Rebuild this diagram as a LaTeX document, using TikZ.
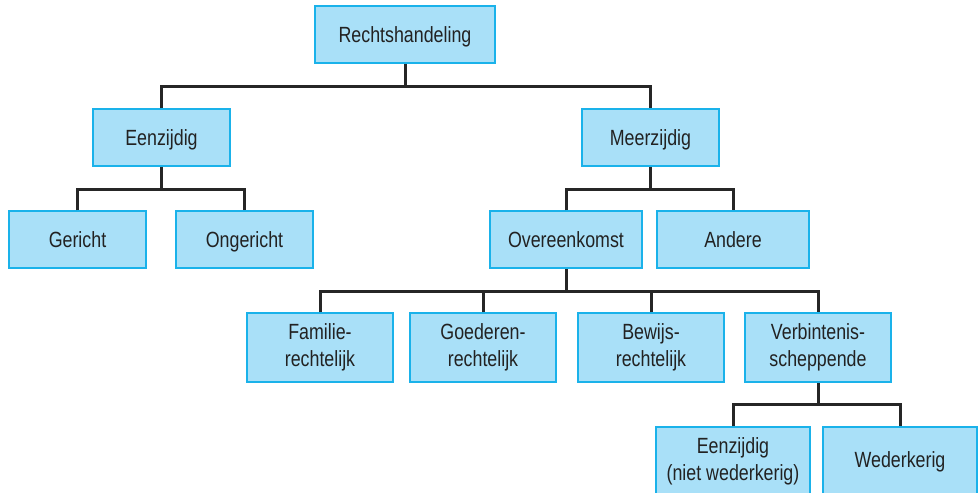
\documentclass[tikz,border=0pt]{standalone}
\usepackage{fontspec}
\setmainfont{Liberation Sans}[FakeStretch=0.81]
\definecolor{boxfill}{HTML}{A9E0F8}
\definecolor{boxline}{HTML}{1AB2EA}
\definecolor{txt}{HTML}{222222}
\definecolor{conn}{HTML}{262626}
\tikzset{
  box/.style={draw=boxline, fill=boxfill, line width=1.5pt, inner sep=0pt,
    text=txt, font=\fontsize{22}{27}\selectfont, align=center},
  small/.style={box, minimum height=57pt, text height=15pt, text depth=0pt},
  tall/.style={box, minimum height=69pt},
  link/.style={draw=conn, line width=3pt}
}
\begin{document}
\begin{tikzpicture}[x=1pt,y=-1pt]
\useasboundingbox (0,0) rectangle (978,493);
\begin{scope}
\clip (0,0) rectangle (978,493);
\node[small, minimum width=180pt] (R) at (405,34.5) {Rechtshandeling};
\node[small, minimum width=137pt] (E) at (161.5,137.5) {Eenzijdig};
\node[small, minimum width=137pt] (M) at (650.5,137.5) {Meerzijdig};
\node[small, minimum width=137pt] (G) at (77.5,239.5) {Gericht};
\node[small, minimum width=137pt] (O) at (244.5,239.5) {Ongericht};
\node[small, minimum width=152pt] (V) at (566,239.5) {Overeenkomst};
\node[small, minimum width=152pt] (A) at (733,239.5) {Andere};
\node[tall, minimum width=146pt] (F) at (320,347.5) {Familie-\\rechtelijk};
\node[tall, minimum width=146pt] (Gd) at (483,347.5) {Goederen-\\rechtelijk};
\node[tall, minimum width=146pt] (B) at (651,347.5) {Bewijs-\\rechtelijk};
\node[tall, minimum width=146pt] (Vb) at (818,347.5) {Verbintenis-\\scheppende};
\node[tall, minimum width=154pt] (E2) at (733,461.5) {Eenzijdig\\(niet wederkerig)};
\node[tall, minimum width=154pt] (W) at (900,461.5) {Wederkerig};
\end{scope}
\coordinate (b1) at (0,86);
\coordinate (b2) at (0,189);
\coordinate (b3) at (0,291);
\coordinate (b4) at (0,404);
\draw[link] (R.south) -- (R.south |- b1);
\draw[link] (E.north) |- (R.south |- b1) -| (M.north);
\draw[link] (E.south) -- (E.south |- b2);
\draw[link] (G.north) |- (E.south |- b2) -| (O.north);
\draw[link] (M.south) -- (M.south |- b2);
\draw[link] (V.north) |- (M.south |- b2) -| (A.north);
\draw[link] (V.south) -- (V.south |- b3);
\draw[link] (F.north) |- (Vb.north |- b3) -- (Vb.north);
\draw[link] (Gd.north) -- (Gd.north |- b3);
\draw[link] (B.north) -- (B.north |- b3);
\draw[link] (Vb.south) -- (Vb.south |- b4);
\draw[link] (E2.north) |- (W.north |- b4) -- (W.north);
\end{tikzpicture}
\end{document}
